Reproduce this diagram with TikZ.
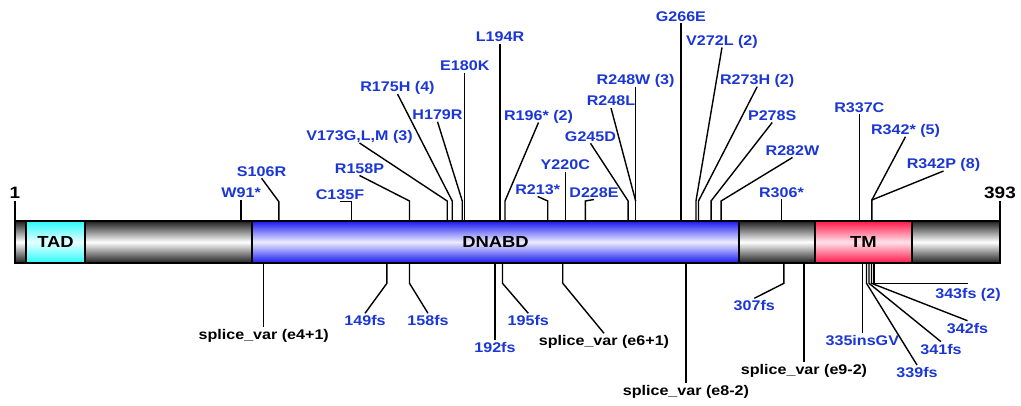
\documentclass[tikz,border=0pt]{standalone}
\usepackage{fontspec}
\newfontfamily\labfont{Liberation Sans}[FakeStretch=1.15]
\definecolor{mutblue}{RGB}{26,54,215}
\definecolor{bluetop}{RGB}{25,25,240}
\definecolor{bluemid}{RGB}{236,236,255}
\definecolor{redtop}{RGB}{255,22,72}
\definecolor{redmid}{RGB}{255,226,234}
\definecolor{cyantop}{RGB}{40,250,250}
\definecolor{cyanmid}{RGB}{232,255,255}
\pgfmathdeclarefunction{rx}{1}{\pgfmathparse{15+(#1-1)*2.5128}}
\begin{document}
\begin{tikzpicture}[x=1pt,y=1pt,
  conn/.style={line width=1.4pt, draw=black},
  lab/.style={font=\labfont\bfseries\fontsize{14}{16}\selectfont, inner sep=2pt, text depth=0pt},
  tl/.style={lab, text=mutblue, anchor=south},
  bl/.style={lab, text=mutblue, anchor=north},
  bsl/.style={lab, text=black, anchor=north},
  endlab/.style={font=\labfont\bfseries\fontsize{16.5}{18}\selectfont, inner sep=2pt, text depth=0pt, anchor=south},
  seg/.style={draw=black, line width=1.3pt, minimum height=42pt, inner sep=0pt, font=\labfont\bfseries\fontsize{16}{18}\selectfont},
  grayseg/.style={seg, top color=black!88, bottom color=black!88, middle color=white},
  blueseg/.style={seg, top color=bluetop, bottom color=bluetop, middle color=bluemid},
  redseg/.style={seg, top color=redtop, bottom color=redtop, middle color=redmid},
  cyanseg/.style={seg, top color=cyantop, bottom color=cyantop, middle color=cyanmid}
]
\useasboundingbox (0,0) rectangle (1021,405);

% protein bar and domains
\node[grayseg, minimum width=985pt] (bar) at (507.5,163) {};
\node[cyanseg, minimum width=59pt] (tad) at (55.5,163) {TAD};
\node[blueseg, minimum width=487pt] (dnabd) at (495.5,163) {DNABD};
\node[redseg, minimum width=97pt] (tm) at (863.5,163) {TM};

% attachment points on the bar
\foreach \r in {91,106,135,158,173,175,179,180,194,196,213,220,228,245,248,266,272,273,278,282,306,337,342}
  \coordinate (u\r) at ({rx(\r)},184);
\coordinate (u1) at (15,184);
\coordinate (u393) at (1000,184);
\foreach \r in {100,149,158,192,195,219,268,307,315}
  \coordinate (d\r) at ({rx(\r)},142);
\coordinate (d335) at (862.3,142);
\coordinate (d339) at (866.5,142);
\coordinate (d341) at (869,142);
\coordinate (d342) at (871.5,142);
\coordinate (d343) at (874,142);

% bends above the bar
\coordinate (k106) at ({rx(106)},203.3);
\coordinate (k135) at ({rx(135)},203.3);
\foreach \r in {158,173,175,179,196,213,228,245,248,272,273,278,282}
  \coordinate (k\r) at ({rx(\r)},204);
\coordinate (k342) at ({rx(342)},205);

% bends below the bar
\foreach \r in {149,158,195,219,307}
  \coordinate (e\r) at ({rx(\r)},121.7);
\coordinate (e339) at (866.5,121.7);
\coordinate (e341) at (869,121.7);
\coordinate (e342) at (871.5,121.7);
\coordinate (e343) at (874,121.7);

% end labels
\node[endlab] (n1) at (15,204) {1};
\node[endlab] (n393) at (1000,204) {393};
\draw[conn] (n1.south) -- (u1);
\draw[conn] (n393.south) -- (u393);

% mutations above
\node[tl] (m91) at ({rx(91)},205) {W91*};
\node[tl] (m106) at (261.6,226.7) {S106R};
\node[tl] (m135) at (340,203.3) {C135F};
\node[tl] (m158) at (359.5,229.5) {R158P};
\node[tl] (m173) at (359.5,262) {V173G,L,M (3)};
\node[tl] (m175) at (397.5,311) {R175H (4)};
\node[tl] (m179) at (437.5,283.3) {H179R};
\node[tl] (m180) at ({rx(180)},332.3) {E180K};
\node[tl] (m194) at ({rx(194)},361.3) {L194R};
\node[tl] (m196) at (538.5,282.5) {R196* (2)};
\node[tl] (m213) at (537.7,208.5) {R213*};
\node[tl] (m220) at ({rx(220)},233.3) {Y220C};
\node[tl] (m228) at (594,205.5) {D228E};
\node[tl] (m245) at (590.5,261.7) {G245D};
\node[tl] (m248l) at (611,297) {R248L};
\node[tl] (m248w) at ({rx(248)},318.3) {R248W (3)};
\node[tl] (m266) at ({rx(266)},381.7) {G266E};
\node[tl] (m272) at (722,357.5) {V272L (2)};
\node[tl] (m273) at (757.2,318.3) {R273H (2)};
\node[tl] (m278) at (772.2,282.5) {P278S};
\node[tl] (m282) at (792.5,247.5) {R282W};
\node[tl] (m306) at ({rx(306)},205.5) {R306*};
\node[tl] (m337) at ({rx(337)},290.7) {R337C};
\node[tl] (m342s) at (905.5,268.3) {R342* (5)};
\node[tl] (m342p) at (943.5,234) {R342P (8)};

\draw[conn] (m91.south) -- (u91);
\draw[conn] (m106.south) -- (k106) -- (u106);
\draw[conn] (m135.south) -- (k135) -- (u135);
\draw[conn] (m158.south) -- (k158) -- (u158);
\draw[conn] (m173.south) -- (k173) -- (u173);
\draw[conn] (m175.south) -- (k175) -- (u175);
\draw[conn] (m179.south) -- (k179) -- (u179);
\draw[conn] (m180.south) -- (u180);
\draw[conn] (m194.south) -- (u194);
\draw[conn] (m196.south) -- (k196) -- (u196);
\draw[conn] (m213.south) -- (k213) -- (u213);
\draw[conn] (m220.south) -- (u220);
\draw[conn] (m228.south) -- (k228) -- (u228);
\draw[conn] (m245.south) -- (k245) -- (u245);
\draw[conn] (m248l.south) -- (k248);
\draw[conn] (m248w.south) -- (u248);
\draw[conn] (m266.south) -- (u266);
\draw[conn] (m272.south) -- (k272) -- (u272);
\draw[conn] (m273.south) -- (k273) -- (u273);
\draw[conn] (m278.south) -- (k278) -- (u278);
\draw[conn] (m282.south) -- (k282) -- (u282);
\draw[conn] (m306.south) -- (u306);
\draw[conn] (m337.south) -- (u337);
\draw[conn] (m342s.south) -- (k342) -- (u342);
\draw[conn] (m342p.south) -- (k342);

% mutations below
\node[bsl] (s100) at ({rx(100)},77.7) {splice\_var (e4+1)};
\node[bl] (f149) at (365,91.7) {149fs};
\node[bl] (f158) at (428,91.7) {158fs};
\node[bl] (f192) at ({rx(192)},65) {192fs};
\node[bl] (f195) at (528.3,91.7) {195fs};
\node[bsl] (s219) at (604,71.7) {splice\_var (e6+1)};
\node[bsl] (s268) at ({rx(268)},21.7) {splice\_var (e8-2)};
\node[bl] (f307) at (754.3,106.7) {307fs};
\node[bsl] (s315) at ({rx(315)},42.7) {splice\_var (e9-2)};
\node[bl] (f335) at (862.3,71.7) {335insGV};
\node[bl] (f343) at (968,119) {343fs (2)};
\node[bl] (f342) at (967.5,84.3) {342fs};
\node[bl] (f341) at (941,63.3) {341fs};
\node[bl] (f339) at (917,40) {339fs};

\draw[conn] (d100) -- (s100.north);
\draw[conn] (d149) -- (e149) -- (f149.north);
\draw[conn] (d158) -- (e158) -- (f158.north);
\draw[conn] (d192) -- (f192.north);
\draw[conn] (d195) -- (e195) -- (f195.north);
\draw[conn] (d219) -- (e219) -- (s219.north);
\draw[conn] (d268) -- (s268.north);
\draw[conn] (d307) -- (e307) -- (f307.north);
\draw[conn] (d315) -- (s315.north);
\draw[conn] (d335) -- (f335.north);
\draw[conn] (d343) -- (e343) -- (e343 -| f343.north);
\draw[conn] (d342) -- (e342) -- (f342.north);
\draw[conn] (d341) -- (e341) -- (f341.north);
\draw[conn] (d339) -- (e339) -- (f339.north);
\end{tikzpicture}
\end{document}
